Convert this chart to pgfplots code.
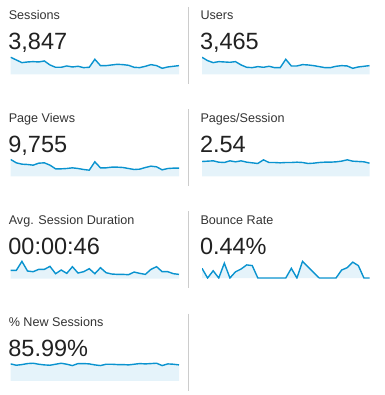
\documentclass[border=0pt]{standalone}
\usepackage{pgfplots}
\pgfplotsset{compat=1.18}
\usepackage{pgfplotstable}
\usepackage{fontspec}
\setmainfont{Liberation Sans}
\definecolor{linec}{HTML}{0A93CF}
\definecolor{fillc}{HTML}{E5F3FA}
\definecolor{titlec}{HTML}{333333}
\definecolor{numc}{HTML}{212121}
\definecolor{sepc}{HTML}{CCCCCC}

% Sessions
\pgfplotstableread{
x y
0 160
1 144
2 128
3 132
4 134
5 132
6 138
7 114
8 100
9 100
10 108
11 102
12 106
13 98
14 100
15 148
16 110
17 110
18 114
19 118
20 116
21 112
22 100
23 98
24 106
25 116
26 110
27 94
28 102
29 106
30 110
}\tSessions
% Users
\pgfplotstableread{
x y
0 148
1 128
2 116
3 122
4 120
5 118
6 122
7 102
8 88
9 86
10 92
11 88
12 94
13 86
14 86
15 136
16 96
17 96
18 104
19 102
20 98
21 92
22 86
23 86
24 94
25 98
26 96
27 82
28 90
29 94
30 98
}\tUsers
% Page Views
\pgfplotstableread{
x y
0 420
1 370
2 350
3 345
4 335
5 365
6 370
7 335
8 280
9 280
10 285
11 295
12 285
13 270
14 260
15 385
16 295
17 295
18 305
19 305
20 300
21 285
22 270
23 275
24 300
25 320
26 310
27 265
28 285
29 290
30 290
}\tPageViews
% Pages/Session
\pgfplotstableread{
x y
0 2.60
1 2.62
2 2.64
3 2.56
4 2.54
5 2.64
6 2.58
7 2.64
8 2.56
9 2.52
10 2.48
11 2.70
12 2.54
13 2.54
14 2.52
15 2.54
16 2.54
17 2.56
18 2.54
19 2.48
20 2.50
21 2.54
22 2.56
23 2.56
24 2.58
25 2.62
26 2.70
27 2.62
28 2.60
29 2.58
30 2.50
}\tPPS
% Avg. Session Duration (s)
\pgfplotstableread{
x y
0 49
1 49
2 76
3 47
4 45
5 52
6 52
7 61
8 39
9 50
10 40
11 60
12 41
13 45
14 54
15 39
16 57
17 42
18 38
19 37
20 37
21 36
22 44
23 40
24 37
25 52
26 60
27 45
28 45
29 39
30 37
}\tDur
% Bounce Rate (%)
\pgfplotstableread{
x y
0 1.40
1 0
2 1.05
3 0
4 2.15
5 0
6 0.90
7 1.30
8 1.90
9 1.80
10 0
11 0
12 0
13 0
14 0
15 0
16 1.40
17 0
18 2.40
19 1.60
20 0.80
21 0
22 0
23 0
24 0
25 1.15
26 1.50
27 2.30
28 1.80
29 0
30 0
}\tBounce
% % New Sessions
\pgfplotstableread{
x y
0 86.4
1 84.8
2 85.6
3 86.8
4 87.2
5 86.0
6 85.2
7 84.8
8 86.0
9 87.2
10 86.0
11 84.4
12 86.8
13 86.8
14 86.4
15 85.2
16 84.4
17 86.0
18 86.0
19 85.6
20 85.6
21 85.2
22 86.0
23 86.8
24 86.4
25 86.8
26 87.2
27 84.4
28 86.4
29 86.0
30 85.2
}\tNew

\pgfplotsset{
  spark/.style={
    scale only axis, hide axis, anchor=south west,
    height=20pt, xmin=0, xmax=30,
  },
}
\tikzset{
  ttl/.style={anchor=base west, inner sep=0pt, text=titlec, font=\fontsize{12.6}{12.6}\selectfont},
  num/.style={anchor=base west, inner sep=0pt, text=numc, font=\fontsize{23.5}{23.5}\selectfont},
}

\begin{document}
\begin{tikzpicture}[x=1pt,y=1pt]
\path[use as bounding box] (0pt,0pt) rectangle (384pt,395pt);

% separators
\foreach \dy in {0,102.2,204.4,306.6} {
  \draw[sepc, line width=1pt] (188.5pt,388pt-\dy pt) -- (188.5pt,311pt-\dy pt);
}

% Row 1
\node[ttl] at (8.6pt,375pt) {Sessions};
\node[num] at (8.2pt,345pt) {3,847};
\begin{axis}[spark, at={(10.7pt,320.7pt)}, width=168.3pt, ymin=58, ymax=178]
\addplot[fill=fillc, draw=none] table {\tSessions} \closedcycle;
\addplot[linec, line width=1.4pt] table {\tSessions};
\end{axis}

\node[ttl] at (200.3pt,375pt) {Users};
\node[num] at (199.8pt,345pt) {3,465};
\begin{axis}[spark, at={(202pt,320.7pt)}, width=167.5pt, ymin=46, ymax=166]
\addplot[fill=fillc, draw=none] table {\tUsers} \closedcycle;
\addplot[linec, line width=1.4pt] table {\tUsers};
\end{axis}

% Row 2
\node[ttl] at (8.6pt,272.8pt) {Page Views};
\node[num] at (8.2pt,242.8pt) {9,755};
\begin{axis}[spark, at={(10.7pt,218.5pt)}, width=168.3pt, ymin=165, ymax=465]
\addplot[fill=fillc, draw=none] table {\tPageViews} \closedcycle;
\addplot[linec, line width=1.4pt] table {\tPageViews};
\end{axis}

\node[ttl] at (200.3pt,272.8pt) {Pages/Session};
\node[num] at (199.8pt,242.8pt) {2.54};
\begin{axis}[spark, at={(202pt,218.5pt)}, width=167.5pt, ymin=1.70, ymax=2.90]
\addplot[fill=fillc, draw=none] table {\tPPS} \closedcycle;
\addplot[linec, line width=1.4pt] table {\tPPS};
\end{axis}

% Row 3
\node[ttl] at (8.6pt,170.6pt) {Avg. Session Duration};
\node[num] at (8.2pt,140.6pt) {00:00:46};
\begin{axis}[spark, at={(10.7pt,116.3pt)}, width=168.3pt, ymin=24, ymax=84]
\addplot[fill=fillc, draw=none] table {\tDur} \closedcycle;
\addplot[linec, line width=1.4pt] table {\tDur};
\end{axis}

\node[ttl] at (200.3pt,170.6pt) {Bounce Rate};
\node[num] at (199.8pt,140.6pt) {0.44\%};
\begin{axis}[spark, at={(202pt,116.3pt)}, width=167.5pt, ymin=-0.1, ymax=2.8]
\addplot[fill=fillc, draw=none] table {\tBounce} \closedcycle;
\addplot[linec, line width=1.4pt] table {\tBounce};
\end{axis}

% Row 4
\node[ttl] at (8.6pt,68.4pt) {\% New Sessions};
\node[num] at (8.2pt,38.4pt) {85.99\%};
\begin{axis}[spark, at={(10.7pt,14.1pt)}, width=168.3pt, ymin=66, ymax=90]
\addplot[fill=fillc, draw=none] table {\tNew} \closedcycle;
\addplot[linec, line width=1.4pt] table {\tNew};
\end{axis}
\end{tikzpicture}
\end{document}
